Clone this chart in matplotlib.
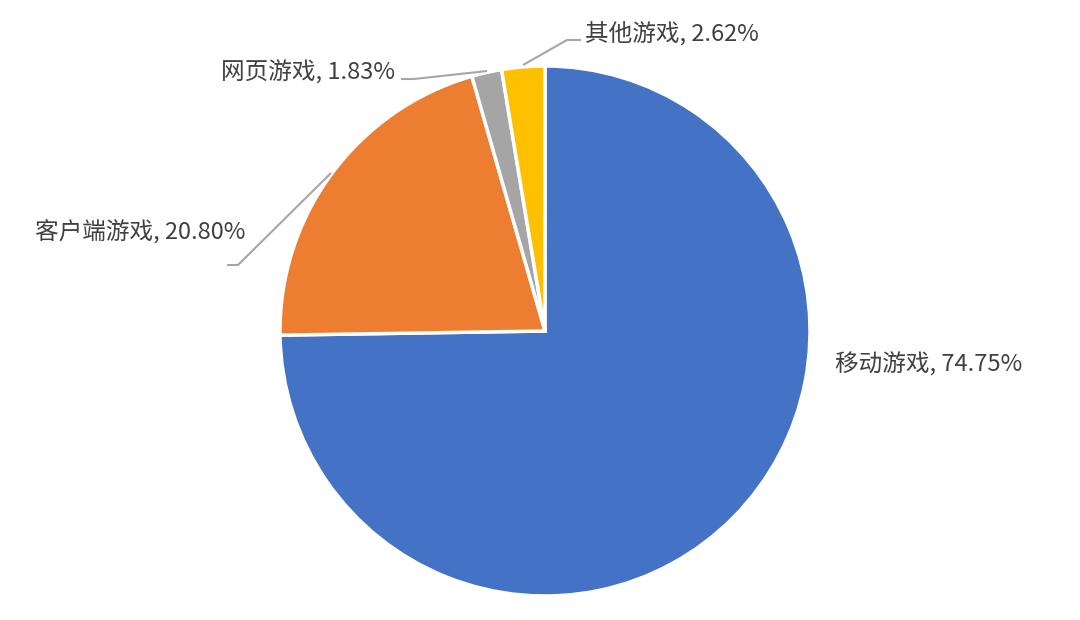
import matplotlib.pyplot as plt

plt.rcParams['font.family'] = ['Noto Sans CJK SC', 'DejaVu Sans']

# data
categories = ['移动游戏', '客户端游戏', '网页游戏', '其他游戏']
shares = [74.75, 20.80, 1.83, 2.62]
colors = ['#4472C4', '#ED7D31', '#A5A5A5', '#FFC000']

W, H = 1080, 620
cx, cy, r = 545, H - 331, 265

fig = plt.figure(figsize=(W / 100, H / 100), dpi=100)
ax = fig.add_axes([0, 0, 1, 1])

ax.pie(shares, colors=colors, startangle=90, counterclock=False,
       center=(cx, cy), radius=r,
       wedgeprops=dict(edgecolor='white', linewidth=2.5))

# pie() resets the view, so set limits afterwards
ax.set_xlim(0, W)
ax.set_ylim(0, H)
ax.set_aspect('equal')
ax.axis('off')

# label placement (pixel coords from top-left): x, y, ha
label_pos = [(835, 365, 'left'), (245, 232, 'right'),
             (395, 72, 'right'), (585, 33, 'left')]
# leader lines (pixel coords)
leaders = [None,
           [(331, 173), (238, 265), (227, 265)],
           [(487, 71), (414, 79), (401, 79)],
           [(523, 65), (567, 40), (581, 40)]]

for name, val, (x, y, ha), ld in zip(categories, shares, label_pos, leaders):
    ax.text(x, H - y, '{}, {:.2f}%'.format(name, val), ha=ha, va='center',
            fontsize=17, color='#404040')
    if ld:
        ax.plot([p[0] for p in ld], [H - p[1] for p in ld],
                color='#A6A6A6', lw=1.5, solid_capstyle='butt')

fig.savefig('out.png', dpi=100, facecolor='white')
